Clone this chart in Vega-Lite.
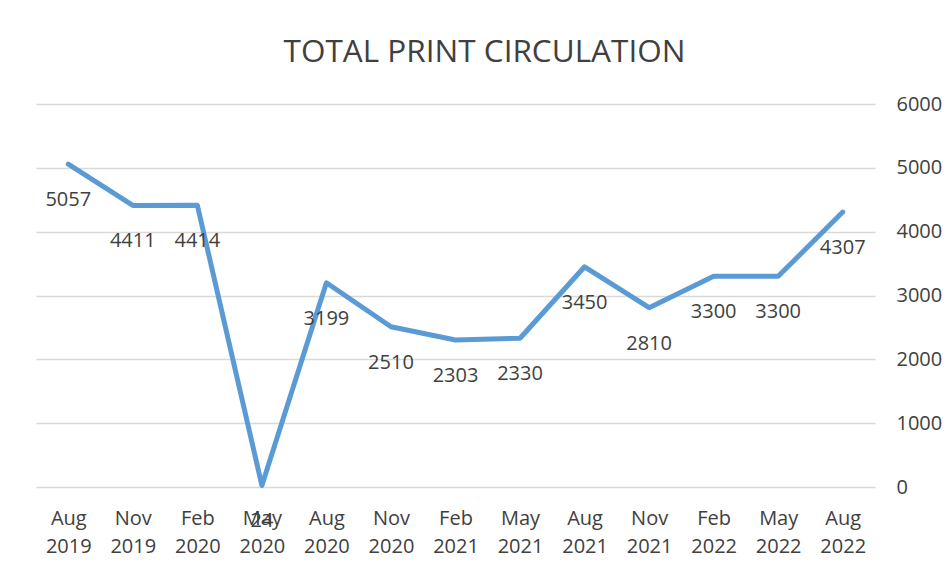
{
  "$schema": "https://vega.github.io/schema/vega-lite/v6.json",
  "width": 839,
  "height": 383,
  "autosize": {"type": "none"},
  "padding": {"left": 36, "top": 104, "right": 73, "bottom": 87},
  "background": "white",
  "config": {
    "view": {"stroke": null},
    "font": "Open Sans"
  },
  "title": {
    "text": "TOTAL PRINT CIRCULATION",
    "fontSize": 31.5,
    "fontWeight": "normal",
    "color": "#404040",
    "font": "Open Sans",
    "anchor": "middle",
    "dx": 29,
    "offset": 26
  },
  "data": {
    "values": [
      {"period": "Aug 2019", "order": 1, "value": 5057},
      {"period": "Nov 2019", "order": 2, "value": 4411},
      {"period": "Feb 2020", "order": 3, "value": 4414},
      {"period": "May 2020", "order": 4, "value": 24},
      {"period": "Aug 2020", "order": 5, "value": 3199},
      {"period": "Nov 2020", "order": 6, "value": 2510},
      {"period": "Feb 2021", "order": 7, "value": 2303},
      {"period": "May 2021", "order": 8, "value": 2330},
      {"period": "Aug 2021", "order": 9, "value": 3450},
      {"period": "Nov 2021", "order": 10, "value": 2810},
      {"period": "Feb 2022", "order": 11, "value": 3300},
      {"period": "May 2022", "order": 12, "value": 3300},
      {"period": "Aug 2022", "order": 13, "value": 4307}
    ]
  },
  "encoding": {
    "x": {
      "field": "period",
      "type": "ordinal",
      "sort": {"field": "order"},
      "scale": {"type": "point", "padding": 0.5},
      "axis": {
        "title": null,
        "labelAngle": 0,
        "domain": false,
        "ticks": false,
        "grid": false,
        "labelExpr": "split(datum.label, ' ')",
        "labelFontSize": 20,
        "labelColor": "#404040",
        "labelPadding": 21,
        "labelLineHeight": 28
      }
    },
    "y": {
      "field": "value",
      "type": "quantitative",
      "scale": {"domain": [0, 6000], "nice": false},
      "axis": {
        "orient": "right",
        "title": null,
        "values": [0, 1000, 2000, 3000, 4000, 5000, 6000],
        "format": "d",
        "domain": false,
        "ticks": false,
        "grid": true,
        "gridColor": "#d9d9d9",
        "gridWidth": 1.5,
        "labelFontSize": 20,
        "labelColor": "#404040",
        "labelPadding": 21,
        "labelAlign": "left"
      }
    }
  },
  "layer": [
    {
      "mark": {"type": "line", "color": "#5B9BD5", "strokeWidth": 5, "strokeCap": "round", "strokeJoin": "round"}
    },
    {
      "mark": {"type": "text", "fontSize": 20, "color": "#404040", "dy": 36, "baseline": "middle", "align": "center"},
      "encoding": {"text": {"field": "value", "type": "quantitative", "format": "d"}}
    }
  ]
}
